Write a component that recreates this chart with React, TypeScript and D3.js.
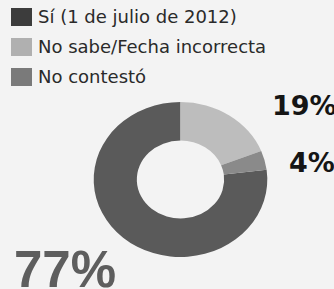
import React, { useRef, useEffect } from 'react';
import * as d3 from 'd3';

// chart data
const categories = ['Sí (1 de julio de 2012)', 'No sabe/Fecha incorrecta', 'No contestó'];
const values = [77, 19, 4];
const colors = ['#5a5a5a', '#bdbdbd', '#8a8a8a'];
const swatchColors = ['#3c3c3c', '#b0b0b0', '#7a7a7a'];
const labels = ['77%', '19%', '4%'];

const W = 334;
const H = 289;

const App = () => {
  const svgRef = useRef<SVGSVGElement>(null);

  useEffect(() => {
    const svg = d3.select(svgRef.current)
      .attr('width', W)
      .attr('height', H)
      .style('background', '#f3f3f3');

    svg.selectAll('*').remove();

    // legend
    const legend = svg.append('g').attr('transform', 'translate(11, 8)');
    const rows = legend.selectAll('g')
      .data(categories)
      .enter()
      .append('g')
      .attr('transform', (d, i) => `translate(0, ${i * 30})`);

    rows.append('rect')
      .attr('width', 21)
      .attr('height', 18)
      .attr('fill', (d, i) => swatchColors[i]);

    rows.append('text')
      .attr('x', 27)
      .attr('y', 15)
      .attr('font-family', 'DejaVu Sans')
      .attr('font-size', 18)
      .attr('fill', '#2a2a2a')
      .text(d => d);

    // donut: Sí starts after the other two slices
    const total = d3.sum(values);
    const start = ((values[1] + values[2]) / total) * 2 * Math.PI;
    const pie = d3.pie<number>()
      .sort(null)
      .value(d => d)
      .startAngle(start)
      .endAngle(start + 2 * Math.PI);

    const arc = d3.arc<d3.PieArcDatum<number>>()
      .innerRadius(39)
      .outerRadius(77.5);

    const donut = svg.append('g')
      .attr('transform', 'translate(180.5, 179.5) scale(1.12, 1)');

    donut.selectAll('path')
      .data(pie(values))
      .enter()
      .append('path')
      .attr('d', arc)
      .attr('fill', (d, i) => colors[i]);

    // percentage labels
    svg.append('text')
      .attr('x', 272)
      .attr('y', 115)
      .attr('font-family', 'DejaVu Sans')
      .attr('font-weight', 'bold')
      .attr('font-size', 27)
      .attr('fill', '#151515')
      .text(labels[1]);

    svg.append('text')
      .attr('x', 289)
      .attr('y', 172)
      .attr('font-family', 'DejaVu Sans')
      .attr('font-weight', 'bold')
      .attr('font-size', 27)
      .attr('fill', '#151515')
      .text(labels[2]);

    svg.append('text')
      .attr('x', 14)
      .attr('y', 287)
      .attr('font-family', 'Liberation Sans')
      .attr('font-weight', 'bold')
      .attr('font-size', 51)
      .attr('fill', '#5e5e5e')
      .text(labels[0]);
  }, []);

  return (
    <svg ref={svgRef} style={{ position: 'absolute', left: 0, top: 0 }}></svg>
  );
};

export default App;
